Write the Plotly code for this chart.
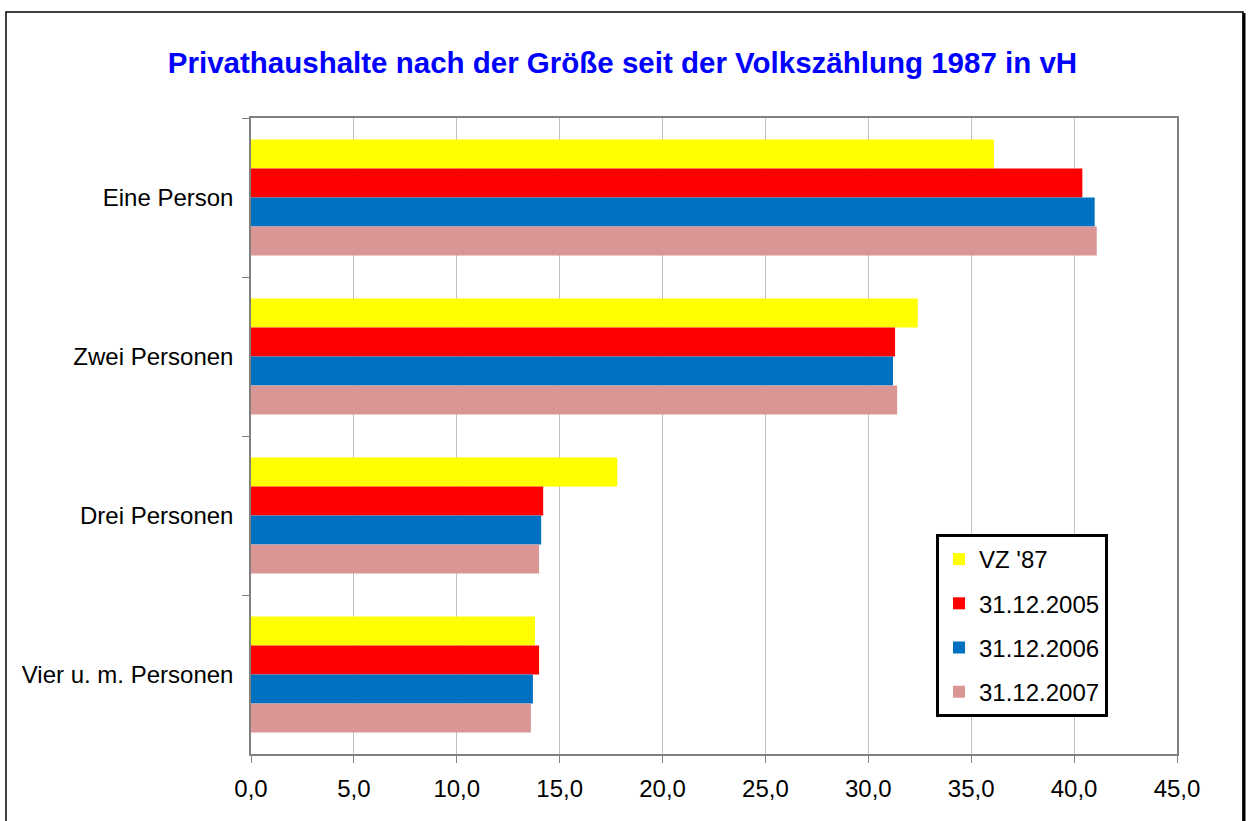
import plotly.graph_objects as go

categories = ["Eine Person", "Zwei Personen", "Drei Personen", "Vier u. m. Personen"]
series_names = ["VZ '87", "31.12.2005", "31.12.2006", "31.12.2007"]
vz87 = [36.1, 32.4, 17.8, 13.8]
d2005 = [40.4, 31.3, 14.2, 14.0]
d2006 = [41.0, 31.2, 14.1, 13.7]
d2007 = [41.1, 31.4, 14.0, 13.6]
x_ticks = [0, 5, 10, 15, 20, 25, 30, 35, 40, 45]
colors = ["#FFFF00", "#FF0000", "#0070C0", "#D99694"]
title_text = "Privathaushalte nach der Größe seit der Volkszählung 1987 in vH"

W, H = 1250, 821
L, R, T, B = 251, 1177, 118, 754
pw, ph = R - L, B - T

def px_x(p):
    return (p - L) / pw

def px_y(p):
    return (B - p) / ph

fig = go.Figure()
for name, vals, col in zip(series_names, [vz87, d2005, d2006, d2007], colors):
    fig.add_trace(go.Bar(
        y=categories, x=vals, name=name, orientation="h",
        marker=dict(color=col, line=dict(width=0)),
        legendgroup=name,
    ))

font_family = "Liberation Sans, Arial, sans-serif"

fig.update_layout(
    width=W, height=H,
    margin=dict(l=L, r=W - R, t=T, b=H - B, autoexpand=False),
    paper_bgcolor="white", plot_bgcolor="white",
    barmode="group", bargap=0.27, bargroupgap=0,
    separators=",.",
    font=dict(family=font_family, size=24, color="black"),
    title=dict(text="<b>" + title_text + "</b>", x=(168 + 1077) / 2 / W, xref="container",
               xanchor="center", y=1 - 63 / H, yref="container", yanchor="middle",
               font=dict(family=font_family, size=29.5, color="#0000FF")),
    showlegend=True,
    legend=dict(x=px_x(936), y=px_y(534), xanchor="left", yanchor="top",
                bgcolor="white", bordercolor="black", borderwidth=3,
                font=dict(family=font_family, size=24, color="black"),
                traceorder="grouped", tracegroupgap=10,
                itemwidth=30),
    xaxis=dict(range=[0, 45], tickvals=x_ticks, tickformat=".1f",
               showgrid=True, gridcolor="#C0C0C0", gridwidth=1,
               showline=True, linecolor="#808080", linewidth=1.5, mirror=True,
               ticks="outside", ticklen=7, tickcolor="#808080",
               ticklabelstandoff=5, zeroline=False, fixedrange=True),
    yaxis=dict(autorange="reversed", type="category", tickson="boundaries",
               showgrid=False, showline=True, linecolor="#808080", linewidth=1.5,
               mirror=True, ticks="outside", ticklen=7, tickcolor="#808080",
               ticklabelstandoff=11, fixedrange=True),
)

# outer chart border
fig.add_shape(type="rect", xref="paper", yref="paper",
              x0=px_x(6), x1=px_x(1243), y0=px_y(835), y1=px_y(12),
              line=dict(color="black", width=1.5), layer="above")
fig.add_shape(type="line", xref="paper", yref="paper",
              x0=px_x(1244), x1=px_x(1244), y0=px_y(835), y1=px_y(13),
              line=dict(color="black", width=3), layer="above")

fig.write_html("out.html", config={"displayModeBar": False},
               post_script="document.body.style.margin='0';")
